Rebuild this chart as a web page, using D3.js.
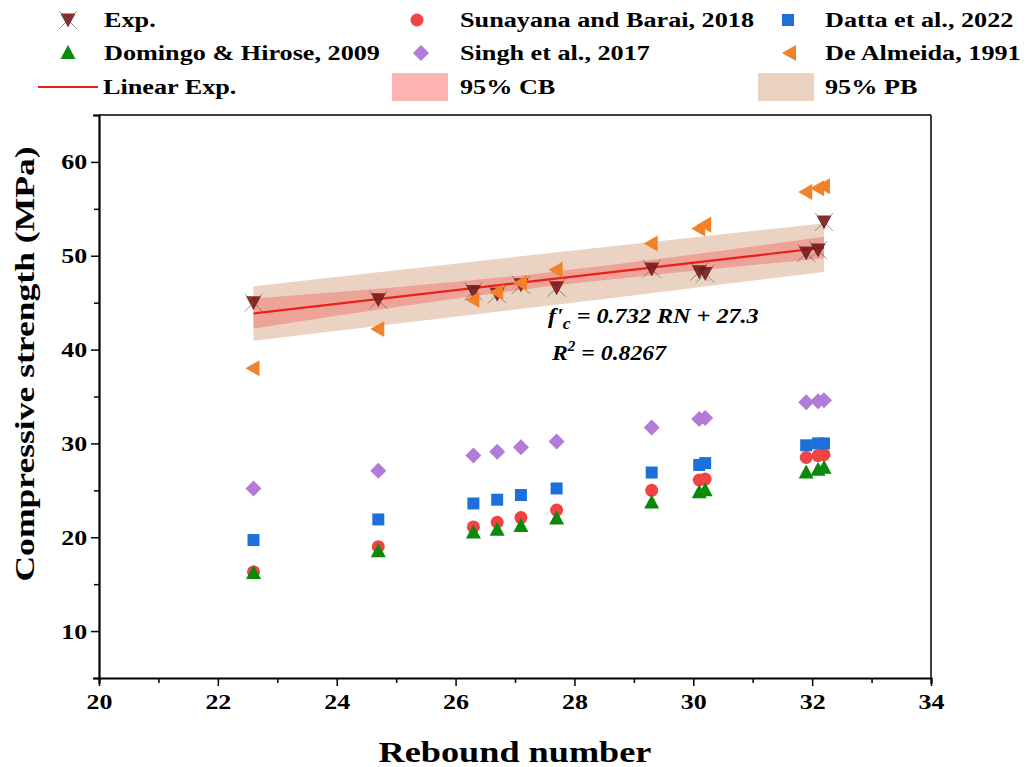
<!DOCTYPE html>
<html><head><meta charset="utf-8">
<script src="https://cdn.jsdelivr.net/npm/d3@7/dist/d3.min.js"></script>
<style>body{margin:0;background:#fff}svg{display:block}</style>
</head><body>
<script>
const rebound = [22.6, 24.7, 26.3, 26.7, 27.1, 27.7, 29.3, 30.1, 30.2, 31.9, 32.1, 32.2];
const expVals = [45.0, 45.3, 46.2, 45.9, 46.9, 46.6, 48.6, 48.3, 48.1, 50.3, 50.6, 53.6];
const sunayana = [16.3, 19.0, 21.1, 21.6, 22.1, 22.9, 25.0, 26.1, 26.2, 28.5, 28.7, 28.8];
const datta = [19.7, 21.9, 23.6, 24.0, 24.5, 25.2, 26.9, 27.7, 27.9, 29.8, 30.0, 30.0];
const domingo = [16.2, 18.5, 20.5, 20.8, 21.2, 22.0, 23.7, 24.8, 25.0, 26.9, 27.2, 27.4];
const singh = [25.2, 27.1, 28.7, 29.1, 29.6, 30.2, 31.7, 32.6, 32.7, 34.4, 34.5, 34.6];
const deAlmeida = [38.0, 42.2, 45.3, 46.1, 47.1, 48.5, 51.3, 52.9, 53.3, 56.8, 57.2, 57.4];
const fitSlope = 0.732, fitIntercept = 27.3;
const bandX = [22.6, 25.0, 27.4, 29.8, 32.2];
const cbHalf = [1.6, 1.05, 0.75, 0.85, 1.15];
const pbHalf = [2.9, 2.85, 2.8, 2.7, 2.6];
const xTicks = [20, 22, 24, 26, 28, 30, 32, 34];
const yTicks = [10, 20, 30, 40, 50, 60];
const legendLabels = ["Exp.", "Sunayana and Barai, 2018", "Datta et al., 2022", "Domingo & Hirose, 2009", "Singh et al., 2017", "De Almeida, 1991", "Linear Exp.", "95% CB", "95% PB"];

const W = 1030, H = 767;
const svg = d3.select("body").append("svg").attr("width", W).attr("height", H);
const L = 99, R = 931, T = 115, B = 678;
const x = d3.scaleLinear().domain([20, 34]).range([L, R]);
const y = d3.scaleLinear().domain([5, 65]).range([B, T]);
const font = "'Liberation Serif', 'Times New Roman', serif";

const col = {exp:"#7a1515", sun:"#f04444", datta:"#1f6fdb", dom:"#0a8a0a", singh:"#b27ad9", de:"#f0822a", line:"#e8201a", cb:"#f9a9a6", pb:"#ead3c2"};

// bands
const pbArea = d3.area().x((d,i)=>x(bandX[i])).y0((d,i)=>y(fitSlope*bandX[i]+fitIntercept-pbHalf[i])).y1((d,i)=>y(fitSlope*bandX[i]+fitIntercept+pbHalf[i])).curve(d3.curveMonotoneX);
const cbArea = d3.area().x((d,i)=>x(bandX[i])).y0((d,i)=>y(fitSlope*bandX[i]+fitIntercept-cbHalf[i])).y1((d,i)=>y(fitSlope*bandX[i]+fitIntercept+cbHalf[i])).curve(d3.curveMonotoneX);
svg.append("path").datum(bandX).attr("d", pbArea).attr("fill", col.pb);
svg.append("path").datum(bandX).attr("d", cbArea).attr("fill", "#ef9a90").attr("opacity", 0.85);
const xr = d3.extent(rebound);
svg.append("line").attr("x1", x(xr[0])).attr("x2", x(xr[1])).attr("y1", y(fitSlope*xr[0]+fitIntercept)).attr("y2", y(fitSlope*xr[1]+fitIntercept)).attr("stroke", col.line).attr("stroke-width", 2.2);

// marker drawers
function mk(g, type, cx, cy) {
  if (type === "exp") {
    g.append("path").attr("d", `M${cx-7.5},${cy-6.5}L${cx+7.5},${cy-6.5}L${cx},${cy+7.5}Z`).attr("fill", col.exp).attr("opacity", 0.9);
    g.append("path").attr("d", `M${cx-9},${cy-9}L${cx+9},${cy+9}M${cx+9},${cy-9}L${cx-9},${cy+9}`).attr("stroke", "#555").attr("stroke-width", 1).attr("opacity", 0.6);
  } else if (type === "sun") {
    g.append("circle").attr("cx", cx).attr("cy", cy).attr("r", 6.5).attr("fill", col.sun);
  } else if (type === "datta") {
    g.append("rect").attr("x", cx-6).attr("y", cy-6).attr("width", 12).attr("height", 12).attr("fill", col.datta);
  } else if (type === "dom") {
    g.append("path").attr("d", `M${cx},${cy-8}L${cx+7.5},${cy+6}L${cx-7.5},${cy+6}Z`).attr("fill", col.dom);
  } else if (type === "singh") {
    g.append("path").attr("d", `M${cx},${cy-8}L${cx+8},${cy}L${cx},${cy+8}L${cx-8},${cy}Z`).attr("fill", col.singh);
  } else if (type === "de") {
    g.append("path").attr("d", `M${cx-8},${cy}L${cx+6},${cy-8}L${cx+6},${cy+8}Z`).attr("fill", col.de);
  }
}
const series = [["exp", expVals], ["sun", sunayana], ["datta", datta], ["dom", domingo], ["singh", singh], ["de", deAlmeida]];
const pts = svg.append("g");
series.forEach(([t, vals]) => {
  vals.forEach((v, i) => mk(pts, t, x(rebound[i]), y(v)));
});

// stretched text helper
function stext(parent, tx, ty, sx, size, anchor, rot) {
  const g = parent.append("g").attr("transform", `translate(${tx},${ty})` + (rot ? ` rotate(${rot})` : "") + ` scale(${sx},1)`);
  return g.append("text").attr("font-family", font).attr("font-weight", "bold").attr("font-size", size).attr("text-anchor", anchor || "start").attr("fill", "#000");
}

// axes
const ax = svg.append("g").attr("transform", `translate(0,${B})`)
  .call(d3.axisBottom(x).tickValues(d3.range(20, 34.1, 1)).tickSize(6).tickFormat(d => xTicks.includes(d) ? d : ""));
ax.select(".domain").attr("stroke-width", 2.2);
ax.selectAll(".tick line").attr("stroke-width", 1.5).attr("y2", d => xTicks.includes(d) ? 8 : 5);
ax.selectAll("text").attr("font-family", font).attr("font-weight", "bold").attr("font-size", 22).attr("transform", "scale(1.18,1)").attr("dy", "1.0em").attr("fill", "#000");
const ay = svg.append("g").attr("transform", `translate(${L},0)`)
  .call(d3.axisLeft(y).tickValues(d3.range(5, 65.1, 5)).tickSize(6).tickFormat(d => yTicks.includes(d) ? d : ""));
ay.select(".domain").attr("stroke-width", 2.2);
ay.selectAll(".tick line").attr("stroke-width", 1.5).attr("x2", d => yTicks.includes(d) ? -8 : -5);
ay.selectAll("text").attr("font-family", font).attr("font-weight", "bold").attr("font-size", 22).attr("transform", "scale(1.18,1)").attr("x", -10).attr("fill", "#000");
svg.append("line").attr("x1", R).attr("x2", R).attr("y1", T).attr("y2", B).attr("stroke", "#000").attr("stroke-width", 1.5);
svg.append("line").attr("x1", L).attr("x2", R).attr("y1", T).attr("y2", T).attr("stroke", "#000").attr("stroke-width", 1.5);

// titles
stext(svg, 515, 762, 1.25, 29, "middle").text("Rebound number");
stext(svg, 34, 364, 1.27, 28, "middle", -90).text("Compressive strength (MPa)");

// equation
const eq = stext(svg, 548, 323, 1.1, 22, "start").attr("font-style", "italic");
eq.append("tspan").text("f'");
eq.append("tspan").attr("font-size", 16).attr("dy", 6).text("c");
eq.append("tspan").attr("dy", -6).text(" = 0.732 RN + 27.3");
const r2 = stext(svg, 552, 360, 1.08, 22, "start").attr("font-style", "italic");
r2.append("tspan").text("R");
r2.append("tspan").attr("font-size", 14).attr("dy", -9).text("2");
r2.append("tspan").attr("dy", 9).text(" = 0.8267");

// legend
const lg = svg.append("g");
const lgItems = [
  {t:"exp", mx:68, tx:104, yy:20},
  {t:"sun", mx:417, tx:460, yy:20},
  {t:"datta", mx:788, tx:825, yy:20},
  {t:"dom", mx:68, tx:104, yy:53},
  {t:"singh", mx:421, tx:460, yy:53},
  {t:"de", mx:790, tx:825, yy:53},
  {t:"line", mx:68, tx:103, yy:87},
  {t:"cb", mx:420, tx:460, yy:87},
  {t:"pb", mx:786, tx:825, yy:87}
];
lgItems.forEach((it, i) => {
  if (it.t === "line") {
    lg.append("line").attr("x1", 38).attr("x2", 98).attr("y1", it.yy).attr("y2", it.yy).attr("stroke", col.line).attr("stroke-width", 2);
  } else if (it.t === "cb" || it.t === "pb") {
    lg.append("rect").attr("x", it.mx-28).attr("y", it.yy-14).attr("width", 56).attr("height", 28).attr("fill", it.t === "cb" ? "#fbb3b3" : col.pb);
  } else {
    mk(lg, it.t, it.mx, it.yy);
  }
  stext(lg, it.tx, it.yy + 7, 1.31, 20, "start").text(legendLabels[i]);
});
</script>
</body></html>
